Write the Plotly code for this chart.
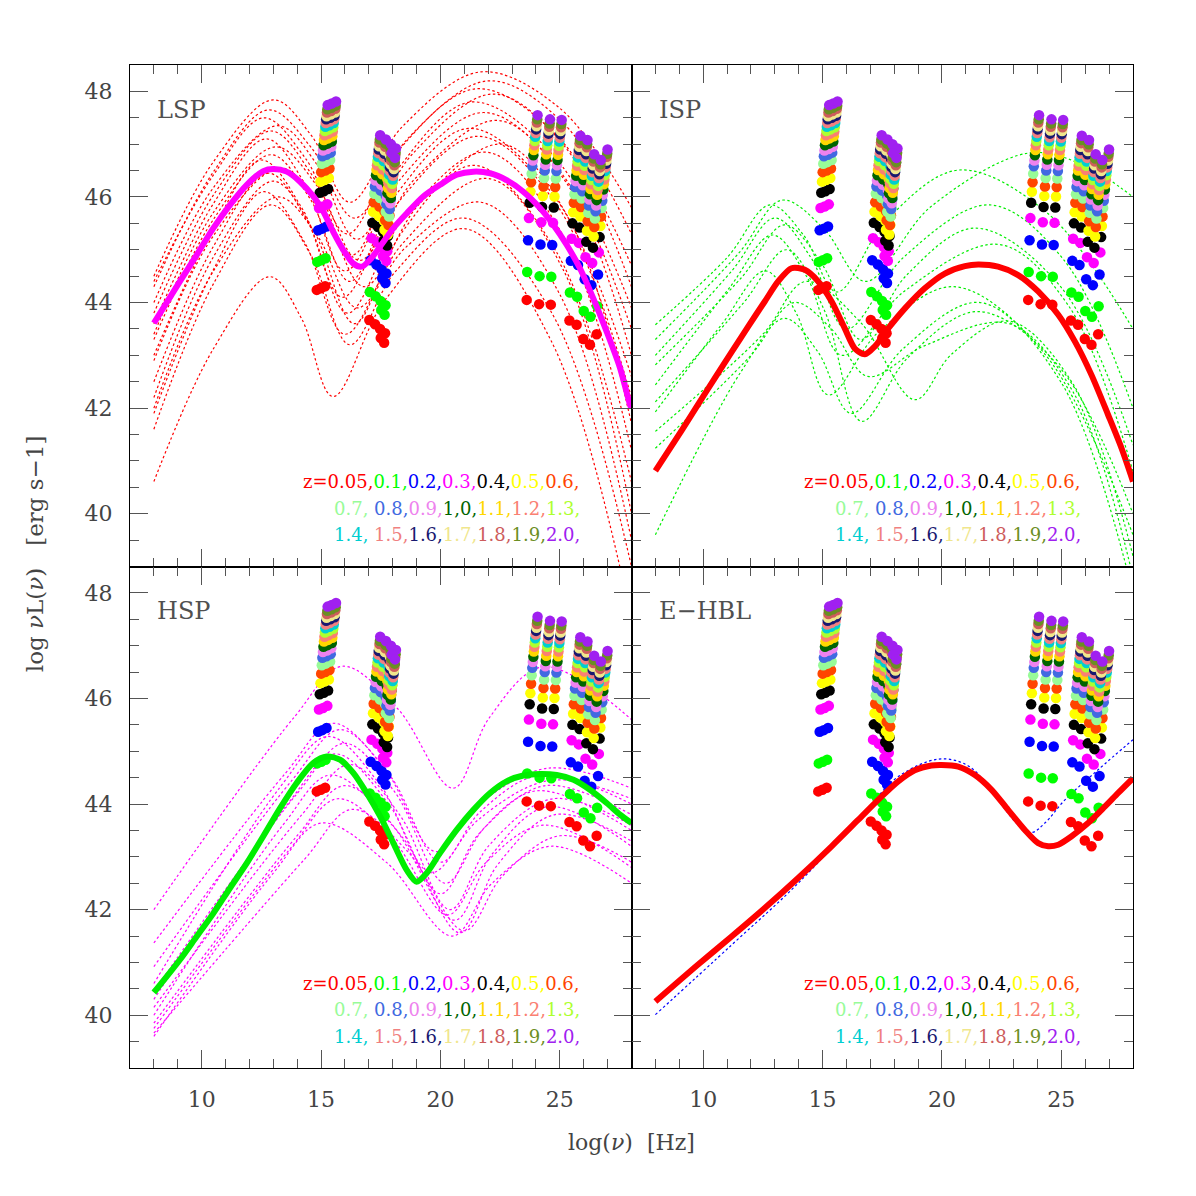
import numpy as np
import plotly.graph_objects as go
from plotly.subplots import make_subplots

# ---------------- redshift bins (legend) ----------------
Z_BINS = [0.05, 0.1, 0.2, 0.3, 0.4, 0.5, 0.6, 0.7, 0.8, 0.9, 1.0,
          1.1, 1.2, 1.3, 1.4, 1.5, 1.6, 1.7, 1.8, 1.9, 2.0]
Z_TEXT = ["z=0.05,", "0.1,", "0.2,", "0.3,", "0.4,", "0.5,", "0.6,",
          "0.7, ", "0.8,", "0.9,", "1,0,", "1.1,", "1.2,", "1.3,",
          "1.4, ", "1.5,", "1.6,", "1.7,", "1.8,", "1.9,", "2.0,"]
Z_COLORS = ["#ff0000", "#00ff00", "#0000ff", "#ff00ff", "#000000", "#ffff00", "#ff4500",
            "#98fb98", "#4169e1", "#ee82ee", "#006400", "#ffd700", "#fa8072", "#adff2f",
            "#00ced1", "#f08080", "#191970", "#f0e68c", "#cd5c5c", "#6b8e23", "#a020f0"]
# luminosity of each z-bin relative to the z=0.05 bin (log units)
Z_LUM_OFFSET = [0.0, 0.53, 1.13, 1.55, 1.84, 2.05, 2.23, 2.39, 2.53, 2.64, 2.74,
                2.84, 2.93, 3.01, 3.09, 3.16, 3.23, 3.29, 3.36, 3.42, 3.50]

# ---------------- limiting points (observer frame, z=0.05 level) ----------------
OPT_NU = [14.80, 14.97, 15.15]
OPT_L = [44.24, 44.27, 44.31]
XRAY_NU = [17.00, 17.24, 17.45, 17.66, 17.48, 17.62]
XRAY_L = [43.67, 43.59, 43.50, 43.42, 43.33, 43.24]
GAM1_NU = [23.59, 24.11, 24.60]
GAM1_L = [44.05, 43.97, 43.96]
GAM2_NU = [25.38, 25.68, 25.96, 26.24, 26.52]
GAM2_L = [43.66, 43.58, 43.31, 43.20, 43.40]

# ---------------- thick average SEDs ----------------
LSP_MEAN_X = [8.00, 9.09, 9.79, 10.49, 11.19, 11.89, 12.58, 13.00, 13.56, 14.12, 14.68, 15.10,
              15.51, 15.93, 16.35, 16.70, 17.05, 17.47, 18.03, 18.59, 19.28, 19.98, 20.68,
              21.38, 22.08, 22.77, 23.47, 24.17, 24.73, 25.29, 25.84, 26.40, 26.96, 27.52, 27.94, 28.0]
LSP_MEAN_Y = [43.61, 44.40, 44.90, 45.41, 45.85, 46.23, 46.49, 46.53, 46.48, 46.29, 46.01, 45.72,
              45.34, 45.00, 44.74, 44.68, 44.81, 45.06, 45.41, 45.69, 46.01, 46.23, 46.42,
              46.48, 46.45, 46.32, 46.10, 45.79, 45.47, 45.09, 44.65, 44.08, 43.45, 42.76, 42.06, 42.0]

ISP_MEAN_X = [8.00, 9.09, 9.79, 10.49, 11.19, 11.89, 12.58, 13.14, 13.70, 14.26, 14.82, 15.38,
              15.93, 16.35, 16.77, 17.19, 17.75, 18.45, 19.28, 20.12, 20.96, 21.52, 22.35,
              23.19, 24.03, 24.87, 25.57, 26.26, 26.96, 27.52, 28.0]
ISP_MEAN_Y = [40.81, 41.57, 42.07, 42.57, 43.06, 43.55, 44.02, 44.40, 44.65, 44.62, 44.40, 44.02,
              43.51, 43.13, 43.02, 43.17, 43.51, 43.89, 44.27, 44.55, 44.69, 44.72, 44.68,
              44.52, 44.21, 43.77, 43.26, 42.63, 41.87, 41.24, 40.61]

HSP_MEAN_X = [8.00, 9.09, 9.79, 10.49, 11.19, 11.89, 12.58, 13.28, 13.98, 14.68, 15.24, 15.79,
              16.35, 16.91, 17.47, 18.03, 18.59, 19.00, 19.42, 19.98, 20.68, 21.38, 22.08,
              22.77, 23.47, 24.17, 24.87, 25.57, 26.26, 26.96, 27.52, 28.0]
HSP_MEAN_Y = [40.43, 41.05, 41.49, 41.93, 42.41, 42.88, 43.39, 43.92, 44.40, 44.78, 44.90, 44.84,
              44.59, 44.21, 43.77, 43.26, 42.75, 42.53, 42.69, 43.07, 43.51, 43.89, 44.21,
              44.43, 44.54, 44.57, 44.55, 44.46, 44.27, 44.02, 43.80, 43.64]

EHBL_MEAN_X = [8.00, 9.79, 11.19, 12.58, 13.98, 15.38, 16.49, 17.47, 18.17, 18.86, 19.56, 19.98,
               20.68, 21.38, 22.08, 22.77, 23.47, 24.03, 24.45, 24.87, 25.43, 26.12, 26.82, 27.38, 28.0]
EHBL_MEAN_Y = [40.26, 40.96, 41.49, 42.03, 42.60, 43.20, 43.70, 44.14, 44.43, 44.64, 44.73, 44.74,
               44.71, 44.55, 44.27, 43.89, 43.51, 43.26, 43.20, 43.23, 43.39, 43.64, 43.95, 44.21, 44.49]

# ---------------- individual source SEDs (dotted) ----------------
LSP_SRC_X = [
    [8, 10.5, 13.0, 14.6, 16.2, 18.4, 21.7, 25.0, 28],
    [8, 10.5, 12.8, 14.6, 16.4, 18.64, 22.0, 25.1, 28],
    [8, 10.5, 12.6, 14.35, 16.1, 18.26, 21.5, 24.9, 28],
    [8, 10.5, 13.2, 14.85, 16.5, 18.78, 22.2, 25.2, 28],
    [8, 10.5, 12.9, 14.6, 16.3, 18.3, 21.3, 24.8, 28],
    [8, 10.5, 12.7, 14.35, 16.0, 18.32, 21.8, 25.0, 28],
    [8, 10.5, 13.1, 14.85, 16.6, 18.92, 22.4, 25.3, 28],
    [8, 10.5, 12.9, 14.55, 16.2, 18.2, 21.2, 24.74, 28],
    [8, 10.5, 12.5, 14.2, 15.9, 18.18, 21.6, 24.93, 28],
    [8, 10.5, 13.3, 15.05, 16.8, 19.12, 22.6, 25.4, 28],
    [8, 10.5, 12.8, 14.45, 16.1, 18.42, 21.9, 25.07, 28],
    [8, 10.5, 13.0, 14.7, 16.4, 18.4, 21.4, 24.83, 28],
    [8, 10.5, 12.6, 14.3, 16.0, 18.4, 22.0, 25.12, 28],
    [8, 10.5, 13.2, 14.85, 16.5, 18.58, 21.7, 24.98, 28],
    [8, 10.5, 12.9, 14.55, 16.2, 18.12, 21.0, 24.64, 28],
    [8, 10.5, 12.86, 14.18, 15.5, 17.7, 21.0, 24.64, 28],
]
LSP_SRC_Y = [
    [44.5, 46.67, 47.84, 47.16, 45.9, 47.33, 48.37, 47.68, 45.8],
    [44.3, 46.48, 47.65, 46.93, 45.6, 47.11, 48.2, 47.42, 45.3],
    [44.4, 46.42, 47.5, 46.73, 45.3, 46.89, 48.05, 47.15, 44.7],
    [44.0, 46.18, 47.35, 46.6, 45.2, 46.79, 47.95, 46.96, 44.3],
    [43.8, 46.04, 47.25, 46.43, 44.9, 46.58, 47.8, 46.75, 43.9],
    [43.6, 45.88, 47.1, 46.23, 44.6, 46.34, 47.6, 46.49, 43.5],
    [43.4, 45.71, 46.95, 46.2, 44.8, 46.34, 47.45, 46.25, 43.0],
    [43.3, 45.58, 46.8, 45.96, 44.4, 46.08, 47.3, 46.03, 42.6],
    [43.0, 45.41, 46.7, 45.79, 44.1, 45.87, 47.15, 45.81, 42.2],
    [42.9, 45.27, 46.55, 45.76, 44.3, 45.87, 47.0, 45.57, 41.7],
    [42.5, 45.07, 46.45, 45.52, 43.8, 45.57, 46.85, 45.32, 41.2],
    [42.2, 44.87, 46.3, 45.35, 43.6, 45.34, 46.6, 44.98, 40.6],
    [41.9, 44.63, 46.1, 45.15, 43.4, 45.11, 46.35, 44.64, 40.0],
    [42.0, 44.6, 46.0, 45.26, 43.9, 45.06, 45.9, 44.17, 39.5],
    [41.6, 44.36, 45.85, 44.92, 43.2, 44.59, 45.6, 43.82, 39.0],
    [40.61, 43.13, 44.49, 43.7, 42.22, 44.06, 45.4, 43.27, 38.0],
]

ISP_SRC_X = [
    [8, 11.5, 13.3, 15.05, 16.8, 19.52, 23.6, 25.9, 28],
    [8, 11.0, 12.8, 14.2, 15.6, 17.64, 20.7, 24.4, 28],
    [8, 11.2, 13.0, 14.5, 16.0, 18.4, 22.0, 25.1, 28],
    [8, 11.6, 13.4, 15.0, 16.6, 18.52, 21.4, 24.97, 28],
    [8, 11.1, 12.9, 14.35, 15.8, 18.44, 22.4, 25.3, 28],
    [8, 11.7, 13.5, 15.07, 16.63, 18.58, 21.5, 24.88, 28],
    [8, 10.8, 12.6, 13.92, 15.24, 17.34, 20.5, 24.3, 28],
    [8, 12.5, 14.3, 16.6, 18.87, 20.4, 22.8, 25.5, 28],
    [8, 12.0, 13.8, 15.35, 16.9, 19.26, 22.8, 25.5, 28],
    [8, 11.6, 13.4, 14.8, 16.2, 18.36, 21.6, 24.96, 28],
]
ISP_SRC_Y = [
    [43.3, 44.94, 45.94, 45.40, 44.4, 45.81, 46.83, 46.61, 46.0],
    [43.58, 44.85, 45.85, 45.28, 44.2, 45.54, 46.51, 45.70, 43.5],
    [43.0, 44.6, 45.6, 44.86, 43.5, 44.86, 45.85, 44.81, 42.0],
    [42.82, 44.47, 45.47, 44.71, 43.3, 44.52, 45.41, 44.30, 41.3],
    [42.44, 44.28, 45.28, 44.48, 43.0, 44.22, 45.1, 43.94, 40.8],
    [42.12, 44.0, 45.0, 43.86, 41.75, 42.96, 43.83, 42.80, 40.0],
    [41.93, 43.6, 44.6, 43.78, 42.25, 43.44, 44.3, 43.03, 39.6],
    [41.56, 43.4, 44.4, 43.62, 42.16, 43.02, 43.65, 42.45, 39.2],
    [41.24, 43.0, 44.0, 43.51, 42.6, 43.18, 43.6, 42.3, 38.8],
    [39.6, 42.7, 43.7, 43.07, 41.9, 43.12, 44.0, 42.51, 38.5],
]

HSP_SRC_X = [
    [8, 13.9, 15.9, 18.22, 20.54, 22.04, 24.3, 28],
    [8, 13.5, 15.5, 17.65, 19.8, 21.68, 24.5, 28],
    [8, 13.8, 15.8, 17.9, 20.0, 21.68, 24.2, 28],
    [8, 13.3, 15.3, 17.45, 19.6, 21.6, 24.6, 28],
    [8, 14.0, 16.0, 18.1, 20.2, 21.88, 24.4, 28],
    [8, 13.6, 15.6, 17.8, 20.0, 21.6, 24.0, 28],
    [8, 14.2, 16.2, 18.3, 20.4, 22.04, 24.7, 28],
    [8, 13.4, 15.4, 18.0, 20.6, 22.16, 24.5, 28],
    [8, 14.0, 16.0, 18.41, 20.82, 22.41, 24.8, 28],
    [8, 13.7, 15.7, 18.0, 20.3, 21.9, 24.3, 28],
    [8, 14.3, 16.3, 18.65, 21.0, 22.6, 25.0, 28],
    [8, 13.0, 15.0, 17.75, 20.5, 22.14, 24.6, 28],
]
HSP_SRC_Y = [
    [42.0, 45.66, 46.61, 45.80, 44.3, 45.63, 46.6, 45.6],
    [41.37, 44.58, 45.53, 44.68, 43.1, 44.02, 44.68, 44.3],
    [40.92, 44.46, 45.41, 44.53, 42.9, 43.86, 44.55, 44.0],
    [40.6, 44.33, 45.28, 44.38, 42.7, 43.71, 44.45, 44.1],
    [40.45, 44.2, 45.15, 44.22, 42.5, 43.57, 44.35, 43.8],
    [40.3, 44.0, 44.95, 44.02, 42.3, 43.43, 44.25, 43.5],
    [40.15, 43.8, 44.75, 43.79, 42.0, 43.22, 44.1, 43.6],
    [40.0, 43.6, 44.55, 43.59, 41.8, 43.05, 43.95, 43.2],
    [39.85, 43.4, 44.35, 43.37, 41.56, 42.86, 43.8, 43.3],
    [39.75, 43.15, 44.1, 43.33, 41.9, 42.89, 43.6, 42.8],
    [39.66, 42.95, 43.9, 43.09, 41.6, 42.64, 43.4, 42.9],
    [39.6, 42.69, 43.64, 42.89, 41.5, 42.49, 43.2, 42.5],
]

EHBL_SRC_X = [[8.00, 11.19, 13.98, 16.77, 18.17, 19.84, 20.96, 21.80, 22.49, 23.19, 23.75,
               24.31, 25.15, 26.54, 28.0]]
EHBL_SRC_Y = [[40.01, 41.33, 42.50, 43.86, 44.52, 44.85, 44.76, 44.43, 43.99, 43.61, 43.46,
               43.64, 44.08, 44.65, 45.22]]

PANELS = [
    dict(row=1, col=1, name="LSP", src_x=LSP_SRC_X, src_y=LSP_SRC_Y, src_color="#ff0000",
         mean_x=LSP_MEAN_X, mean_y=LSP_MEAN_Y, mean_color="#ff00ff"),
    dict(row=1, col=2, name="ISP", src_x=ISP_SRC_X, src_y=ISP_SRC_Y, src_color="#00ee00",
         mean_x=ISP_MEAN_X, mean_y=ISP_MEAN_Y, mean_color="#ff0000"),
    dict(row=2, col=1, name="HSP", src_x=HSP_SRC_X, src_y=HSP_SRC_Y, src_color="#ff00ff",
         mean_x=HSP_MEAN_X, mean_y=HSP_MEAN_Y, mean_color="#00ee00"),
    dict(row=2, col=2, name="E\u2212HBL", src_x=EHBL_SRC_X, src_y=EHBL_SRC_Y, src_color="#0000ff",
         mean_x=EHBL_MEAN_X, mean_y=EHBL_MEAN_Y, mean_color="#ff0000"),
]

SERIF = "DejaVu Serif"

fig = make_subplots(rows=2, cols=2, horizontal_spacing=0, vertical_spacing=0)

for idx, p in enumerate(PANELS):
    r, c = p["row"], p["col"]
    # individual sources
    for sx, sy in zip(p["src_x"], p["src_y"]):
        fig.add_trace(go.Scatter(x=sx, y=sy, mode="lines",
                                 line=dict(color=p["src_color"], width=1.2, dash="2.5px,2.5px",
                                           shape="spline", smoothing=1.0),
                                 showlegend=False, hoverinfo="skip"), row=r, col=c)
    # flux-limit points for each redshift
    for zi, z in enumerate(Z_BINS):
        shift = np.log10(1.0 + z)
        xs, ys = [], []
        for nus, ls in ((OPT_NU, OPT_L), (XRAY_NU, XRAY_L), (GAM1_NU, GAM1_L), (GAM2_NU, GAM2_L)):
            xs += [n + shift for n in nus]
            ys += [l + Z_LUM_OFFSET[zi] for l in ls]
        fig.add_trace(go.Scatter(x=xs, y=ys, mode="markers",
                                 marker=dict(color=Z_COLORS[zi], size=10.5, line=dict(width=0)),
                                 showlegend=False, hoverinfo="skip"), row=r, col=c)
    # average SED
    fig.add_trace(go.Scatter(x=p["mean_x"], y=p["mean_y"], mode="lines",
                             line=dict(color=p["mean_color"], width=6, shape="spline", smoothing=0.8),
                             showlegend=False, hoverinfo="skip"), row=r, col=c)

    axn = "" if idx == 0 else str(idx + 1)
    # panel label
    fig.add_annotation(x=8.05, y=47.65, xref="x" + axn, yref="y" + axn, text=p["name"],
                       showarrow=False, xanchor="left", yanchor="middle",
                       font=dict(family=SERIF, size=24, color="#505050"))
    # z legend (three lines)
    for li, (a, b, yy) in enumerate(((0, 7, 40.61), (7, 14, 40.10), (14, 21, 39.60))):
        txt = "".join('<span style="color:%s">%s</span>' % (Z_COLORS[k], Z_TEXT[k].replace(" ", "&nbsp;"))
                      for k in range(a, b))
        fig.add_annotation(x=25.92, y=yy, xref="x" + axn, yref="y" + axn, text=txt,
                           showarrow=False, xanchor="right", yanchor="middle",
                           font=dict(family=SERIF, size=18))

axis_common = dict(showline=True, linecolor="black", linewidth=1, mirror="ticks",
                   ticks="inside", ticklen=18, tickwidth=1, tickcolor="#555",
                   showgrid=False, zeroline=False,
                   tickfont=dict(family=SERIF, size=22, color="#444"))

for r in (1, 2):
    for c in (1, 2):
        fig.update_xaxes(range=[7, 28], tick0=0, dtick=5,
                         minor=dict(ticks="inside", ticklen=9, tick0=0, dtick=1, tickcolor="#555",
                                    showgrid=False),
                         showticklabels=(r == 2), ticklabelstandoff=12,
                         row=r, col=c, **axis_common)
        fig.update_yaxes(range=[39, 48.5], tick0=0, dtick=2,
                         minor=dict(ticks="inside", ticklen=9, tick0=0, dtick=0.5, tickcolor="#555",
                                    showgrid=False),
                         showticklabels=(c == 1), ticklabelstandoff=12,
                         row=r, col=c, **axis_common)

fig.add_annotation(x=0.5, y=-0.074, xref="paper", yref="paper",
                   text="log(<i>\u03bd</i>)&nbsp; [Hz]", showarrow=False,
                   xanchor="center", yanchor="middle",
                   font=dict(family=SERIF, size=22, color="#444"))
fig.add_annotation(x=-0.094, y=0.513, xref="paper", yref="paper",
                   text="log <i>\u03bd</i>L(<i>\u03bd</i>)&nbsp;&nbsp; [erg s\u22121]", showarrow=False,
                   textangle=-90, xanchor="center", yanchor="middle",
                   font=dict(family=SERIF, size=23, color="#444"))

fig.update_layout(width=1196, height=1196,
                  margin=dict(l=130, r=63, t=65, b=128),
                  paper_bgcolor="white", plot_bgcolor="white", showlegend=False)

fig.write_html("out.html")
